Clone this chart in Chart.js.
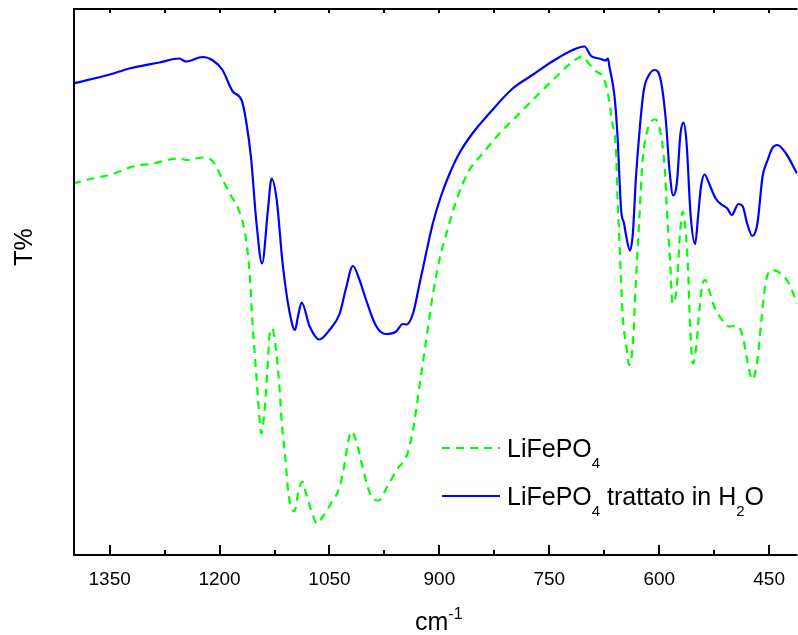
<!DOCTYPE html>
<html>
<head>
<meta charset="utf-8" />
<title>FTIR LiFePO4</title>
<script src="https://cdn.jsdelivr.net/npm/chart.js@4.4.0/dist/chart.umd.min.js"></script>
<style>
	body { margin: 0; padding: 0; background: #fff; }
	#wrap { position: relative; width: 798px; height: 635px; }
</style>
</head>
<body>
<div id="wrap"><canvas id="chart"></canvas></div>

<script>
// x ticks (cm-1), axis runs from high to low wavenumber
var xTicks = [1350, 1200, 1050, 900, 750, 600, 450];
var xMinor = [1275, 1125, 975, 825, 675, 525];

// LiFePO4 (green dashed)
var greenWn = [1400, 1373, 1346, 1318, 1291, 1268, 1255, 1245, 1223, 1209, 1200, 1186, 1173, 1166, 1161, 1159, 1155, 1150, 1146, 1143,
  1139, 1135, 1132, 1128, 1124, 1119, 1115, 1110, 1106, 1098, 1092, 1087, 1082, 1075, 1067, 1059, 1048, 1036, 1030, 1025,
  1020, 1014, 1005, 998, 991, 983, 971, 957, 945, 936, 927, 918, 909, 900, 889, 875, 859, 841, 818, 791,
  764, 736, 718, 705, 696, 686, 677, 671, 664, 659, 657, 655, 650, 645, 641, 636, 632, 627, 623, 616,
  605, 598, 593, 589, 585, 582, 576, 572, 568, 565, 561, 558, 554, 549, 546, 541, 537, 532, 525, 514,
  505, 493, 486, 480, 473, 466, 461, 455, 446, 434, 423, 412];
var greenT = [74.3, 75.3, 76.2, 77.7, 78.3, 79.1, 79.3, 79, 79.5, 78.7, 76.3, 72.3, 68.7, 65, 59.7, 56.3, 46.3, 36.3, 28.3, 24.3,
  28.3, 36.3, 43.7, 45.3, 42.3, 35, 26.3, 19, 12.3, 8.7, 13, 14.7, 12.3, 9, 6.3, 7.7, 10.3, 13.7, 17.7, 22.3,
  24.7, 23, 17.7, 13.7, 11.3, 10.9, 13.7, 17.3, 19.7, 25, 34, 43, 52, 59, 65, 71.7, 77, 80.3, 84.3, 88.3,
  92.3, 96.3, 98.7, 99.7, 98.3, 96.7, 95.7, 93, 86.3, 81, 71.7, 65, 48.3, 41.7, 38, 42.3, 54.3, 67.7, 78.3, 85,
  87.1, 84.3, 78.3, 67.7, 58.3, 50.3, 53.7, 63.7, 68.7, 66.3, 58.3, 46.3, 38.3, 42.3, 47.7, 54.3, 55, 53, 49.7, 47,
  45.7, 45.8, 43.7, 39, 35.1, 39, 46.3, 54.3, 57, 56.3, 54.3, 50.3];

// LiFePO4 trattato in H2O (blue solid)
var blueWn = [1400, 1350, 1323, 1282, 1255, 1246, 1223, 1209, 1196, 1182, 1170, 1164, 1157, 1150, 1142, 1134, 1129, 1122, 1114, 1105,
  1097, 1093, 1088, 1077, 1064, 1050, 1036, 1028, 1018, 1009, 1000, 986, 973, 959, 950, 945, 936, 927, 923, 909,
  898, 886, 873, 855, 832, 800, 773, 746, 718, 702, 693, 682, 673, 670, 668, 661, 657, 652, 648, 645,
  640, 636, 632, 626, 621, 614, 606, 598, 591, 586, 581, 576, 571, 567, 563, 557, 551, 547, 543, 538,
  532, 523, 514, 507, 501, 492, 486, 480, 473, 466, 459, 452, 446, 439, 427, 412];
var blueT = [94.3, 96.1, 97.3, 98.5, 99.3, 98.7, 99.6, 98.9, 97, 92.7, 91, 87, 79.4, 67, 58.3, 69, 75.3, 71, 58.4, 49,
  45, 47.7, 50.5, 45.7, 43.1, 45, 48.3, 53, 57.8, 55, 51, 45.7, 44.2, 44.7, 46.2, 46.1, 48.3, 54.3, 57, 66.3,
  71.7, 76.3, 80.3, 84.3, 88.3, 93.3, 96, 98.7, 101, 101.7, 99.8, 99.3, 98.9, 99.3, 97.7, 91.7, 84, 69, 66.3, 63.7,
  60.9, 64.3, 75, 86.3, 93, 96, 97, 95, 87, 77, 71.9, 74.3, 84.3, 86.5, 83, 67.7, 62.2, 67.7, 73.7, 76.1,
  74.3, 71.3, 70, 69.3, 68, 70.2, 69.7, 66.3, 63.8, 66.3, 75.7, 79, 81.3, 82, 80.3, 76.3];

var GREEN = '#00ff00';
var BLUE = '#0000ff';
var FONT = '"Liberation Sans", Arial, sans-serif';

function toXY(xs, ys) {
  return xs.map(function (x, i) { return { x: x, y: ys[i] }; });
}

// text with sub/superscript pieces: [text, 'n'|'sub'|'sup']
function drawRich(ctx, x, y, parts, size, small) {
  parts.forEach(function (p) {
    var s = p[1] === 'n' ? size : small;
    var dy = p[1] === 'sub' ? size * 0.42 : (p[1] === 'sup' ? -size * 0.45 : 0);
    ctx.font = s + 'px ' + FONT;
    ctx.fillText(p[0], x, y + dy);
    x += ctx.measureText(p[0]).width;
  });
}

var decor = {
  id: 'decor',
  afterDraw: function (chart) {
    var ctx = chart.ctx;
    var a = chart.chartArea;
    var xs = chart.scales.x;
    ctx.save();
    ctx.strokeStyle = '#000';
    ctx.lineWidth = 2;
    ctx.beginPath();
    ctx.moveTo(a.left + 1, a.bottom);
    ctx.lineTo(a.left + 1, a.top - 1);
    ctx.lineTo(a.right, a.top - 1);
    ctx.moveTo(a.left, a.bottom);
    ctx.lineTo(a.right, a.bottom);
    xTicks.forEach(function (v) {
      var px = Math.round(xs.getPixelForValue(v));
      ctx.moveTo(px, a.bottom);
      ctx.lineTo(px, a.bottom - 10);
      ctx.moveTo(px, a.top - 1);
      ctx.lineTo(px, a.top + 3);
    });
    xMinor.forEach(function (v) {
      var px = Math.round(xs.getPixelForValue(v));
      ctx.moveTo(px, a.bottom);
      ctx.lineTo(px, a.bottom - 5);
      ctx.moveTo(px, a.top - 1);
      ctx.lineTo(px, a.top + 3);
    });
    ctx.stroke();

    // axis titles
    ctx.fillStyle = '#000';
    ctx.textBaseline = 'alphabetic';
    ctx.textAlign = 'left';
    drawRich(ctx, 415, 630, [['cm', 'n'], ['-1', 'sup']], 25, 16);

    ctx.save();
    ctx.translate(32, 247);
    ctx.rotate(-Math.PI / 2);
    ctx.textAlign = 'center';
    ctx.font = '25px ' + FONT;
    ctx.fillText('T%', 0, 0);
    ctx.restore();

    // legend
    ctx.lineWidth = 2.2;
    ctx.strokeStyle = GREEN;
    ctx.setLineDash([8, 6]);
    ctx.beginPath();
    ctx.moveTo(442, 448);
    ctx.lineTo(500, 448);
    ctx.stroke();
    ctx.setLineDash([]);
    ctx.strokeStyle = BLUE;
    ctx.beginPath();
    ctx.moveTo(442, 496);
    ctx.lineTo(500, 496);
    ctx.stroke();
    ctx.textAlign = 'left';
    drawRich(ctx, 507, 457, [['LiFePO', 'n'], ['4', 'sub']], 25, 15);
    drawRich(ctx, 507, 505, [['LiFePO', 'n'], ['4', 'sub'], [' trattato in H', 'n'], ['2', 'sub'], ['O', 'n']], 25, 15);
    ctx.restore();
  }
};

var chart = new Chart(document.getElementById('chart'), {
  type: 'line',
  data: {
    datasets: [{
      label: 'LiFePO4',
      data: toXY(greenWn, greenT),
      borderColor: GREEN,
      borderWidth: 2.2,
      borderDash: [8, 6],
      pointRadius: 0,
      fill: false,
      cubicInterpolationMode: 'monotone'
    }, {
      label: 'LiFePO4 trattato in H2O',
      data: toXY(blueWn, blueT),
      borderColor: BLUE,
      borderWidth: 2.2,
      pointRadius: 0,
      fill: false,
      cubicInterpolationMode: 'monotone'
    }]
  },
  options: {
    responsive: true,
    maintainAspectRatio: false,
    animation: false,
    layout: { padding: { left: 73, top: 10, right: 0, bottom: 0 } },
    plugins: { legend: { display: false }, tooltip: { enabled: false } },
    scales: {
      x: {
        type: 'linear',
        reverse: true,
        min: 411.4,
        max: 1400,
        afterBuildTicks: function (s) { s.ticks = xTicks.map(function (v) { return { value: v }; }); },
        afterFit: function (s) { s.height = 80; },
        grid: { display: false, drawTicks: false },
        border: { display: false },
        ticks: {
          padding: 13,
          color: '#000',
          font: { family: FONT, size: 19 },
          maxRotation: 0,
          callback: function (v) { return String(v); }
        }
      },
      y: {
        display: false,
        min: 0,
        max: 109
      }
    }
  },
  plugins: [decor]
});
</script>
</body>
</html>
